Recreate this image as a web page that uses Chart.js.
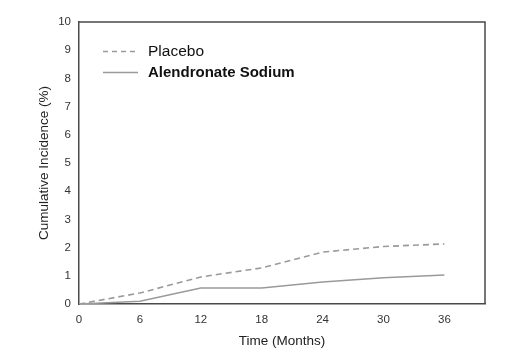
<!DOCTYPE html>
<html><head><meta charset="utf-8">
<script src="https://cdn.jsdelivr.net/npm/chart.js@4/dist/chart.umd.min.js"></script>
<style>html,body{margin:0;padding:0;background:#fff}#wrap{width:532px;height:364px}</style>
</head><body><div id="wrap"><canvas id="c" width="532" height="364"></canvas></div>
<script>
const months = [0, 6, 12, 18, 24, 30, 36];
const placebo = [0, 0.39, 0.96, 1.28, 1.84, 2.04, 2.13];
const alendronate = [0, 0.1, 0.57, 0.57, 0.78, 0.93, 1.03];
const xTicks = [0, 6, 12, 18, 24, 30, 36];
const yTicks = [0,1,2,3,4,5,6,7,8,9,10];
const seriesNames = ['Placebo', 'Alendronate Sodium'];

const AX = '#4a4a4a';
const LINE = '#9a9a9a';
const FONT = '"Liberation Sans", Arial, sans-serif';

const boxPlugin = {
  id: 'box',
  afterDraw(chart) {
    const {ctx, chartArea: a} = chart;
    ctx.save();
    ctx.strokeStyle = AX; ctx.lineWidth = 1.5;
    ctx.beginPath();
    ctx.moveTo(a.left, a.top); ctx.lineTo(a.right, a.top); ctx.lineTo(a.right, a.bottom);
    ctx.stroke();
    // legend
    const items = [
      {name: seriesNames[0], dash: [5,4], bold: false, size: 15.5},
      {name: seriesNames[1], dash: [], bold: true, size: 15}
    ];
    items.forEach((it, i) => {
      const y = a.top + 29.5 + i * 21;
      ctx.strokeStyle = LINE; ctx.lineWidth = 1.5; ctx.setLineDash(it.dash);
      ctx.beginPath(); ctx.moveTo(a.left + 24, y); ctx.lineTo(a.left + 59, y); ctx.stroke();
      ctx.setLineDash([]);
      ctx.fillStyle = '#111';
      ctx.font = (it.bold ? 'bold ' : '') + it.size + 'px ' + FONT;
      ctx.textBaseline = 'middle'; ctx.textAlign = 'left';
      ctx.fillText(it.name, a.left + 69, y);
    });
    ctx.restore();
  }
};

new Chart(document.getElementById('c'), {
  type: 'line',
  data: {
    datasets: [
      {label: seriesNames[0], data: months.map((m,i)=>({x:m,y:placebo[i]})), borderColor: LINE, borderWidth: 1.6, borderDash: [6,4], pointRadius: 0, tension: 0, fill: false},
      {label: seriesNames[1], data: months.map((m,i)=>({x:m,y:alendronate[i]})), borderColor: LINE, borderWidth: 1.6, pointRadius: 0, tension: 0, fill: false}
    ]
  },
  options: {
    responsive: false, animation: false, devicePixelRatio: 1,
    layout: {padding: {top: 22, right: 47, left: 34, bottom: 13}},
    plugins: {legend: {display: false}, tooltip: {enabled: false}},
    scales: {
      x: {
        type: 'linear', min: 0, max: 40,
        afterBuildTicks: s => { s.ticks = xTicks.map(v => ({value: v})); },
        afterFit: s => { s.height = 47; },
        grid: {display: false, drawTicks: true, tickLength: 4, color: AX},
        border: {color: AX, width: 1.5},
        ticks: {color: '#333', font: {family: FONT, size: 11.5}, padding: 5, maxRotation: 0},
        title: {display: true, text: 'Time (Months)', color: '#222', font: {family: FONT, size: 13.5}, padding: {top: 4, bottom: 2}}
      },
      y: {
        type: 'linear', min: 0, max: 10,
        afterBuildTicks: s => { s.ticks = yTicks.map(v => ({value: v})); },
        afterFit: s => { s.width = 45; },
        grid: {display: false, tickLength: 4, color: AX},
        border: {color: AX, width: 1.5},
        ticks: {color: '#333', font: {family: FONT, size: 11.5}, padding: 4},
        title: {display: true, text: 'Cumulative Incidence (%)', color: '#222', font: {family: FONT, size: 13.5}, padding: {top: 2, bottom: 4}}
      }
    }
  },
  plugins: [boxPlugin]
});
</script></body></html>
